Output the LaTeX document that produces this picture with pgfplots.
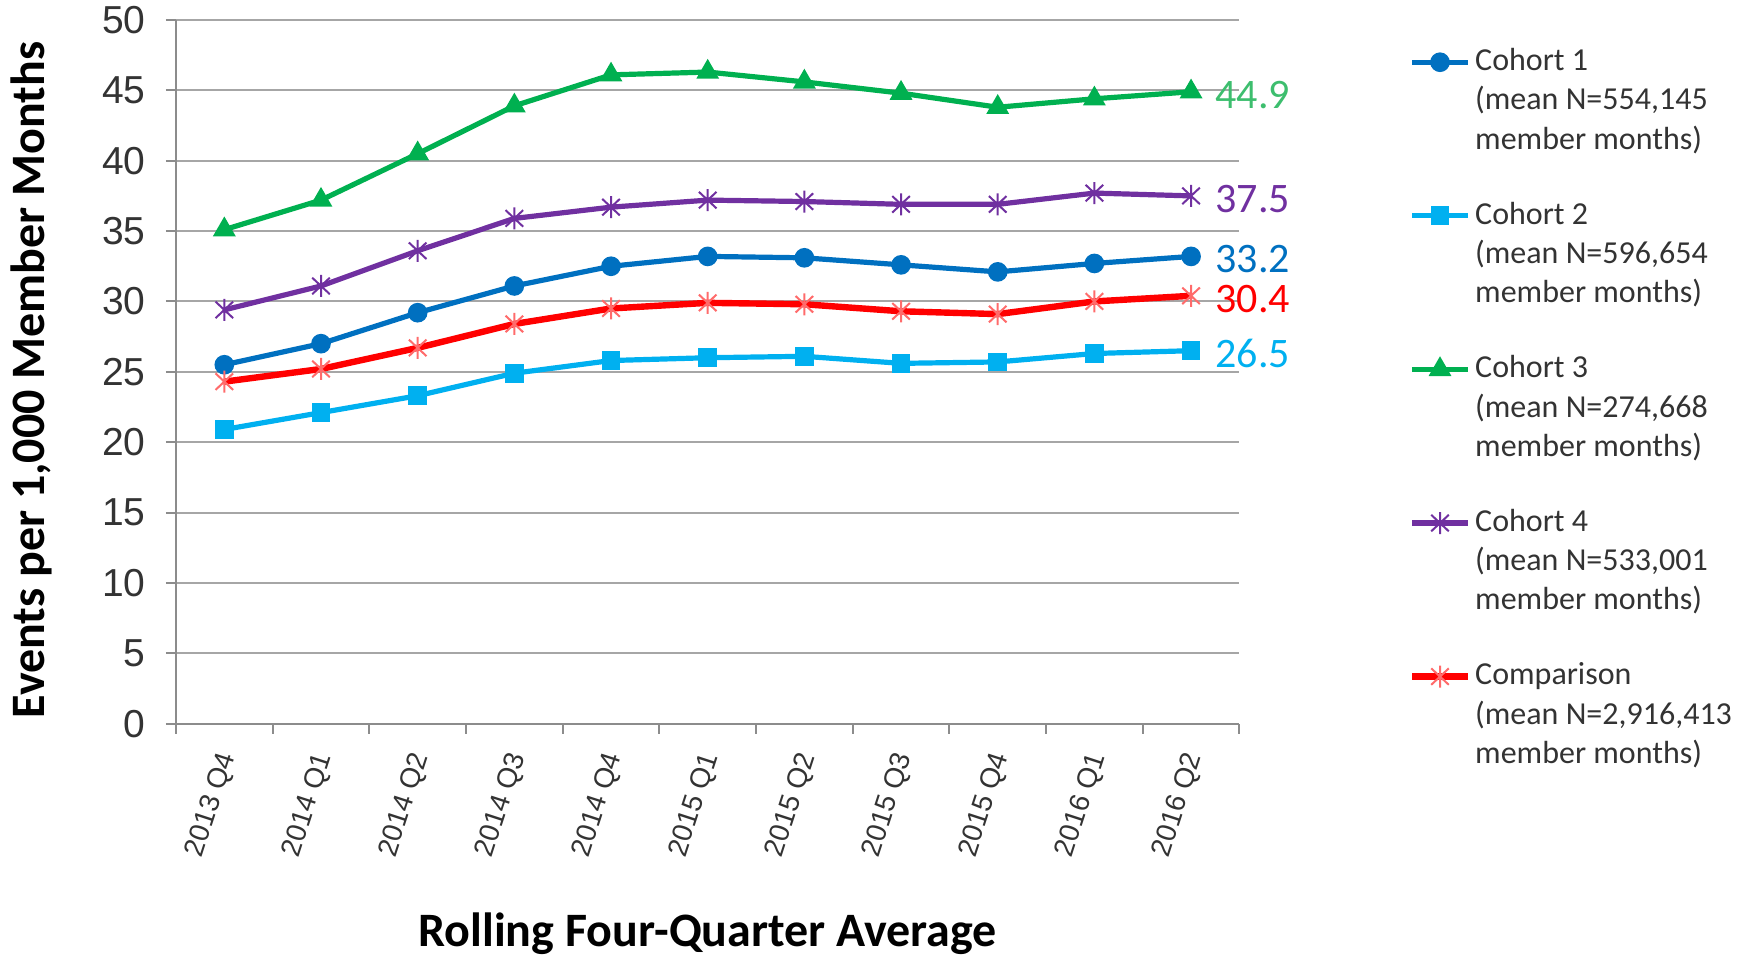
\documentclass[border=0pt]{standalone}
\usepackage{pgfplots}
\pgfplotsset{compat=1.18}
\usepackage{fontspec}
\setmainfont{Carlito}
\newfontfamily\arialf{Liberation Sans}

\definecolor{cone}{HTML}{0070C0}
\definecolor{ctwo}{HTML}{00B0F0}
\definecolor{cthree}{HTML}{00B050}
\definecolor{cthreelbl}{HTML}{3DBE6E}
\definecolor{cfour}{HTML}{7030A0}
\definecolor{ccomp}{HTML}{FF0000}
\definecolor{ccompmk}{HTML}{FF6B6B}
\definecolor{gridgray}{HTML}{A6A6A6}
\definecolor{axisgray}{HTML}{8C8C8C}
\definecolor{txtgray}{HTML}{333333}

% asterisk like Excel's: vertical bar plus an X
\pgfdeclareplotmark{xast}{%
  \pgfpathmoveto{\pgfqpoint{0pt}{\pgfplotmarksize}}%
  \pgfpathlineto{\pgfqpoint{0pt}{-\pgfplotmarksize}}%
  \pgfpathmoveto{\pgfqpoint{-.8\pgfplotmarksize}{.75\pgfplotmarksize}}%
  \pgfpathlineto{\pgfqpoint{.8\pgfplotmarksize}{-.75\pgfplotmarksize}}%
  \pgfpathmoveto{\pgfqpoint{-.8\pgfplotmarksize}{-.75\pgfplotmarksize}}%
  \pgfpathlineto{\pgfqpoint{.8\pgfplotmarksize}{.75\pgfplotmarksize}}%
  \pgfusepathqstroke}

\begin{document}
\begin{tikzpicture}
\begin{axis}[
  scale only axis,
  width=531.7pt, height=351.8pt,
  clip=false,
  xmin=-0.5, xmax=10.5,
  ymin=0, ymax=50,
  ytick={0,5,...,50},
  xtick={0,...,10},
  xticklabels={2013 Q4,2014 Q1,2014 Q2,2014 Q3,2014 Q4,2015 Q1,2015 Q2,2015 Q3,2015 Q4,2016 Q1,2016 Q2},
  minor xtick={-0.5,0.5,...,10.5},
  major x tick style={draw=none},
  minor x tick style={draw=axisgray, line width=1pt},
  major y tick style={draw=axisgray, line width=1pt},
  tick align=outside,
  major tick length=5pt, minor tick length=5pt,
  axis lines*=left,
  axis line style={draw=axisgray, line width=1pt},
  ymajorgrids,
  grid style={draw=gridgray, line width=1pt},
  /pgf/number format/assume math mode=true,
  yticklabel style={font=\arialf\fontsize{19.5}{19.5}\selectfont, text=txtgray, inner sep=0pt, xshift=-10pt},
  xticklabel style={font=\arialf\fontsize{14}{14}\selectfont, text=txtgray, inner sep=0pt, xshift=2pt, yshift=-10pt, rotate=72, anchor=east},
  ylabel={\bfseries Events per 1,000 Member Months},
  ylabel style={font=\fontsize{24}{24}\selectfont, at={([xshift=-72.5pt,yshift=-4pt]axis description cs:0,0.5)}, anchor=center},
  xlabel={\bfseries Rolling Four-Quarter Average},
  xlabel style={font=\fontsize{24}{24}\selectfont, at={([yshift=-105pt]axis description cs:0.5,0)}, anchor=center},
  legend style={
    at={([xshift=84.5pt,yshift=-14pt]axis description cs:1,1)}, anchor=north west,
    draw=none, fill=none, inner sep=0pt, row sep=25pt, column sep=2pt,
    nodes={align=left, inner sep=0pt, text=txtgray, font=\fontsize{16}{19.6}\selectfont},
  },
  legend cell align=left,
  legend image code/.code={
    \draw[mark repeat=2,mark phase=2] plot coordinates {(0pt,19pt) (14pt,19pt) (28pt,19pt)};
  },
  every axis plot/.append style={line width=2.6pt},
]
\addplot[color=cone, mark=*, mark size=3.6pt] coordinates {
  (0,25.5) (1,27.0) (2,29.2) (3,31.1) (4,32.5) (5,33.2) (6,33.1) (7,32.6) (8,32.1) (9,32.7) (10,33.2)
};
\addlegendentry{Cohort 1\\(mean N=554,145\\member months)}
\addplot[color=ctwo, mark=square*, mark size=3.4pt] coordinates {
  (0,20.9) (1,22.1) (2,23.3) (3,24.9) (4,25.8) (5,26.0) (6,26.1) (7,25.6) (8,25.7) (9,26.3) (10,26.5)
};
\addlegendentry{Cohort 2\\(mean N=596,654\\member months)}
\addplot[color=cthree, mark=triangle*, mark size=4pt] coordinates {
  (0,35.1) (1,37.2) (2,40.5) (3,43.9) (4,46.1) (5,46.3) (6,45.6) (7,44.8) (8,43.8) (9,44.4) (10,44.9)
};
\addlegendentry{Cohort 3\\(mean N=274,668\\member months)}
\addplot[color=cfour, mark=xast, mark size=5.5pt, mark options={line width=1pt}] coordinates {
  (0,29.4) (1,31.1) (2,33.6) (3,35.9) (4,36.7) (5,37.2) (6,37.1) (7,36.9) (8,36.9) (9,37.7) (10,37.5)
};
\addlegendentry{Cohort 4\\(mean N=533,001\\member months)}
\addplot[color=ccomp, line width=3.2pt, mark=xast, mark size=5.5pt, mark options={draw=ccompmk, line width=1pt}] coordinates {
  (0,24.3) (1,25.2) (2,26.7) (3,28.4) (4,29.5) (5,29.9) (6,29.8) (7,29.3) (8,29.1) (9,30.0) (10,30.4)
};
\addlegendentry{Comparison\\(mean N=2,916,413\\member months)}

\begin{scope}[every node/.style={anchor=west, inner sep=0pt, xshift=12pt, yshift=-1.5pt, font=\fontsize{21}{21}\selectfont}]
\node[text=cthreelbl] at (axis cs:10,44.9) {44.9};
\node[text=cfour] at (axis cs:10,37.5) {37.5};
\node[text=cone] at (axis cs:10,33.2) {33.2};
\node[text=ccomp] at (axis cs:10,30.4) {30.4};
\node[text=ctwo] at (axis cs:10,26.5) {26.5};
\end{scope}
\end{axis}
\useasboundingbox ([xshift=-88pt,yshift=-116.7pt]current axis.south west) rectangle ([xshift=255.3pt,yshift=10pt]current axis.north east);
\end{tikzpicture}
\end{document}
